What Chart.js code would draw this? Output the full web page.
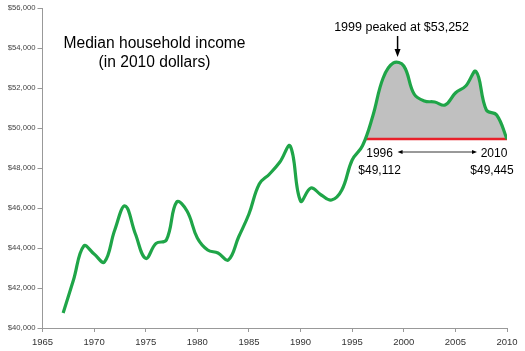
<!DOCTYPE html>
<html>
<head>
<meta charset="utf-8">
<script src="https://cdn.jsdelivr.net/npm/chart.js@4/dist/chart.umd.min.js"></script>
<style>
  body { margin: 0; background: #fff; }
  #wrap { width: 525px; height: 351px; }
</style>
</head>
<body>
<div id="wrap"><canvas id="chart" width="525" height="351"></canvas></div>
<script>
// Median household income, 2010 dollars
var years = [1967, 1968, 1969, 1970, 1971, 1972, 1973, 1974, 1975, 1976,
             1977, 1978, 1979, 1980, 1981, 1982, 1983, 1984, 1985, 1986,
             1987, 1988, 1989, 1990, 1991, 1992, 1993, 1994, 1995, 1996,
             1997, 1998, 1999, 2000, 2001, 2002, 2003, 2004, 2005, 2006,
             2007, 2008, 2009, 2010];
var income = [40750, 42400, 44100, 43700, 43300, 44900, 46100, 44700, 43480, 44230,
              44400, 46300, 45850, 44500, 43900, 43750, 43400, 44550, 45700, 47200,
              47700, 48300, 49100, 46350, 47000, 46650, 46400, 46900, 48400, 49112,
              50600, 52500, 53252, 53100, 51700, 51350, 51300, 51150, 51750, 52100,
              52823, 50900, 50650, 49445];

// red baseline: 2010 level, from where the curve crosses it (just after 1996) to 2010
var baseYears = [1996.3, 2010];
var baseLevel = 49445;

var xTicks = { min: 1965, max: 2010, step: 5 };
var yTicks = { min: 40000, max: 56000, step: 2000 };

var fontFamily = '"Liberation Sans", Arial, sans-serif';

// Draw the text notes and arrows on top of the chart
var notes = {
  id: 'notes',
  afterDatasetsDraw: function (chart) {
    var ctx = chart.ctx;
    var x = chart.scales.x;
    ctx.save();
    ctx.fillStyle = '#000';
    ctx.strokeStyle = '#000';
    ctx.textAlign = 'center';
    ctx.textBaseline = 'alphabetic';

    ctx.font = '15.6px ' + fontFamily;
    ctx.fillText('Median household income', 154.5, 48);
    ctx.fillText('(in 2010 dollars)', 154.5, 67);

    // peak note with down arrow
    var px = x.getPixelForValue(1999.4);
    ctx.font = '12.5px ' + fontFamily;
    ctx.fillText('1999 peaked at $53,252', px + 4, 30.7);
    ctx.lineWidth = 1.5;
    ctx.beginPath();
    ctx.moveTo(px, 36);
    ctx.lineTo(px, 50);
    ctx.stroke();
    ctx.beginPath();
    ctx.moveTo(px - 3, 49);
    ctx.lineTo(px + 3, 49);
    ctx.lineTo(px, 57);
    ctx.closePath();
    ctx.fill();

    // span labels
    var lx = x.getPixelForValue(baseYears[0]) + 14;
    var rx = x.getPixelForValue(2010) - 13;
    ctx.font = '12px ' + fontFamily;
    ctx.fillText('1996', lx, 157);
    ctx.fillText('2010', rx, 157);
    ctx.fillText('$49,112', lx, 173.5);
    ctx.fillText('$49,445', rx - 2, 173.5);

    // double arrow between the years
    var ay = 152;
    var a0 = lx + 18, a1 = rx - 17;
    ctx.lineWidth = 0.8;
    ctx.beginPath();
    ctx.moveTo(a0 + 3, ay);
    ctx.lineTo(a1 - 3, ay);
    ctx.stroke();
    ctx.beginPath();
    ctx.moveTo(a0, ay);
    ctx.lineTo(a0 + 5, ay - 2);
    ctx.lineTo(a0 + 5, ay + 2);
    ctx.closePath();
    ctx.fill();
    ctx.beginPath();
    ctx.moveTo(a1, ay);
    ctx.lineTo(a1 - 5, ay - 2);
    ctx.lineTo(a1 - 5, ay + 2);
    ctx.closePath();
    ctx.fill();
    ctx.restore();
  }
};

var incomePoints = years.map(function (yr, i) { return { x: yr, y: income[i] }; });
var basePoints = baseYears.map(function (yr) { return { x: yr, y: baseLevel }; });

new Chart(document.getElementById('chart'), {
  type: 'line',
  data: {
    datasets: [
      {
        label: 'Median household income',
        data: incomePoints,
        borderColor: '#1fa548',
        borderWidth: 3.2,
        tension: 0.4,
        pointRadius: 0,
        order: 0,
        fill: { target: { value: baseLevel }, above: '#c0c0c0', below: 'rgba(0,0,0,0)' }
      },
      {
        label: 'base',
        data: basePoints,
        borderColor: '#e8202a',
        borderWidth: 2.5,
        pointRadius: 0,
        order: 1,
        fill: false
      }
    ]
  },
  options: {
    responsive: false,
    animation: false,
    layout: { padding: { top: 8, right: 18, left: 0, bottom: 0 } },
    plugins: {
      legend: { display: false },
      tooltip: { enabled: false },
      filler: { drawTime: 'beforeDatasetsDraw' }
    },
    scales: {
      x: {
        type: 'linear',
        min: xTicks.min,
        max: xTicks.max,
        ticks: {
          stepSize: xTicks.step,
          color: '#333',
          padding: 5,
          font: { size: 9.5, family: fontFamily },
          callback: function (v) { return String(v); }
        },
        grid: { drawOnChartArea: false, drawTicks: true, tickLength: 4, color: '#999' },
        border: { color: '#999' },
        afterFit: function (s) { s.height = 23; }
      },
      y: {
        min: yTicks.min,
        max: yTicks.max,
        ticks: {
          stepSize: yTicks.step,
          color: '#444',
          padding: 2,
          font: { size: 7.7, family: fontFamily },
          callback: function (v) { return '$' + v.toLocaleString('en-US'); }
        },
        grid: { drawOnChartArea: false, drawTicks: true, tickLength: 5, color: '#999' },
        border: { color: '#999' },
        afterFit: function (s) { s.width = 42.5; }
      }
    }
  },
  plugins: [notes]
});
</script>
</body>
</html>
